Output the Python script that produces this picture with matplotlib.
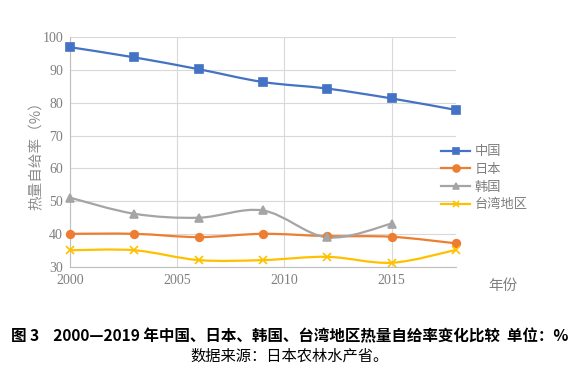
## 2000-2019 calorie self-sufficiency comparison (smoothed lines, Excel-style)
import numpy as np
import matplotlib.pyplot as plt
from matplotlib.path import Path
from matplotlib.patches import PathPatch
from matplotlib.lines import Line2D

plt.rcParams['font.family'] = ['Noto Sans CJK SC', 'DejaVu Sans']

## Data
years = [2000, 2003, 2006, 2009, 2012, 2015, 2018]
china = [96.9, 93.8, 90.2, 86.3, 84.3, 81.3, 77.8]
japan = [40.1, 40.1, 39.1, 40.1, 39.4, 39.2, 37.2]
korea_years = [2000, 2003, 2006, 2009, 2012, 2015]
korea = [51.1, 46.2, 45.0, 47.2, 39.0, 43.2]
taiwan = [35.1, 35.1, 32.1, 32.1, 33.1, 31.3, 35.2]

series_names = ['中国', '日本', '韩国', '台湾地区']
colors = ['#4472C4', '#ED7D31', '#A5A5A5', '#FFC000']
markers = ['s', 'o', '^', 'x']

fig = plt.figure(figsize=(5.8, 3.81), dpi=100)
ax = fig.add_axes([70 / 580, 114 / 381, 386 / 580, 230 / 381])


def smooth_path(xs, ys, t=0.5):
    ## cubic Bezier segments through the points (Catmull-Rom style)
    pts = np.column_stack([xs, ys]).astype(float)
    n = len(pts)
    verts = [pts[0]]
    codes = [Path.MOVETO]
    for i in range(n - 1):
        p0 = pts[i - 1] if i > 0 else pts[i]
        p1 = pts[i]
        p2 = pts[i + 1]
        p3 = pts[i + 2] if i + 2 < n else pts[i + 1]
        c1 = p1 + (p2 - p0) * t / 3
        c2 = p2 - (p3 - p1) * t / 3
        verts += [c1, c2, p2]
        codes += [Path.CURVE4] * 3
    return Path(verts, codes)


all_x = [years, years, korea_years, years]
all_y = [china, japan, korea, taiwan]
handles = []
for xs, ys, name, c, m in zip(all_x, all_y, series_names, colors, markers):
    ax.add_patch(PathPatch(smooth_path(xs, ys), fill=False, edgecolor=c, lw=1.6, zorder=3))
    ax.plot(xs, ys, ls='none', marker=m, color=c, ms=5.5, mew=1.2, zorder=4, clip_on=False)
    handles.append(Line2D([0], [0], color=c, lw=1.6, marker=m, ms=5, mew=1.2))

ax.set_xlim(2000, 2018)
ax.set_ylim(30, 100)
ax.set_xticks([2000, 2005, 2010, 2015])
ax.set_yticks(range(30, 101, 10))
ax.grid(True, color='#D9D9D9', lw=0.8)
ax.set_axisbelow(True)
for s in ['top', 'right']:
    ax.spines[s].set_visible(False)
for s in ['left', 'bottom']:
    ax.spines[s].set_color('#BFBFBF')
ax.tick_params(length=0, colors='#7F7F7F', labelsize=10, pad=5)
for lab in ax.get_xticklabels() + ax.get_yticklabels():
    lab.set_family('Liberation Serif')

ax.set_ylabel('热量自给率（%）', color='#8C8C8C', fontsize=10.5)
ax.yaxis.set_label_coords(-26 / 386, 0.5)

leg = fig.legend(handles, series_names, loc='upper left', bbox_to_anchor=(436 / 580, 1 - 140 / 381),
                 frameon=False, fontsize=9.5, handlelength=2.2, labelspacing=0.35,
                 handletextpad=0.3, borderaxespad=0)
for t in leg.get_texts():
    t.set_color('#7F7F7F')

fig.text(488 / 580, 1 - 286 / 381, '年份', color='#7F7F7F', fontsize=10.5, ha='left', va='center')

fig.text(290 / 580, 1 - 336 / 381,
         '图 3    2000—2019 年中国、日本、韩国、台湾地区热量自给率变化比较  单位：%',
         ha='center', va='center', fontsize=11.2, fontweight='bold', color='black')
fig.text(290 / 580, 1 - 356 / 381, '数据来源：日本农林水产省。',
         ha='center', va='center', fontsize=11, color='black')

fig.savefig('out.png', dpi=100)
